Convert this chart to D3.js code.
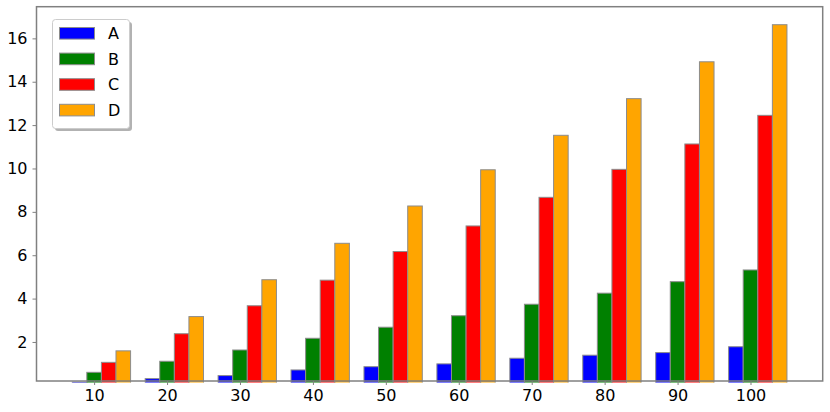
<!DOCTYPE html>
<html>
<head>
<meta charset="utf-8">
<script src="https://cdn.jsdelivr.net/npm/d3@7"></script>
<style>
html,body{margin:0;padding:0;background:#fff;}
svg{display:block;font-family:"DejaVu Sans",sans-serif;}
</style>
</head>
<body>
<svg id="chart" width="830" height="412"></svg>
<script>
const categories = [10, 20, 30, 40, 50, 60, 70, 80, 90, 100];
const seriesNames = ["A", "B", "C", "D"];
const seriesColors = ["#0000ff", "#008000", "#ff0000", "#ffa500"];
const valuesA = [0.15, 0.31, 0.45, 0.71, 0.86, 0.99, 1.25, 1.39, 1.51, 1.78];
const valuesB = [0.60, 1.11, 1.63, 2.17, 2.68, 3.21, 3.74, 4.25, 4.78, 5.32];
const valuesC = [1.06, 2.38, 3.67, 4.85, 6.17, 7.35, 8.67, 9.96, 11.13, 12.45];
const valuesD = [1.59, 3.17, 4.87, 6.55, 8.27, 9.94, 11.53, 13.22, 14.92, 16.63];
const yTicks = [2, 4, 6, 8, 10, 12, 14, 16];
const barWidth = 2;           // in data units
const barOffsets = [-2, 0, 2, 4];
const series = [valuesA, valuesB, valuesC, valuesD];

const svg = d3.select("#chart");
const L = 36.5, R = 822.7, T = 6.7, B = 381;
const x = d3.scaleLinear().domain([2.1, 109.9]).range([L, R]);
const y = d3.scaleLinear().domain([0.2, 17.46]).range([B, T]);

svg.append("defs").append("clipPath").attr("id", "clip")
  .append("rect").attr("x", L).attr("y", T).attr("width", R - L).attr("height", B - T + 1.6);

const plot = svg.append("g").attr("clip-path", "url(#clip)");
series.forEach((vals, si) => {
  plot.selectAll(null).data(vals).enter().append("rect")
    .attr("x", (d, i) => x(categories[i] + barOffsets[si] - barWidth / 2))
    .attr("width", (d, i) => x(categories[i] + barOffsets[si] + barWidth / 2) - x(categories[i] + barOffsets[si] - barWidth / 2))
    .attr("y", d => y(d))
    .attr("height", d => y(0) - y(d))
    .attr("fill", seriesColors[si])
    .attr("stroke", "#8c8c8c")
    .attr("stroke-width", 1);
});

// axes
const xAxis = d3.axisBottom(x).tickValues(categories).tickSize(4).tickPadding(5);
const gx = svg.append("g").attr("transform", `translate(0,${B})`).call(xAxis);
const yAxis = d3.axisLeft(y).tickValues(yTicks).tickSize(4).tickPadding(5);
const gy = svg.append("g").attr("transform", `translate(${L},0)`).call(yAxis);
[gx, gy].forEach(g => {
  g.select(".domain").remove();
  g.selectAll(".tick line").attr("stroke", "#808080").attr("stroke-width", 1);
  g.selectAll(".tick text").attr("fill", "#000").style("font-size", "16px")
    .style("font-family", "'DejaVu Sans', sans-serif");
});

// spines
svg.append("rect").attr("x", L).attr("y", T).attr("width", R - L).attr("height", B - T)
  .attr("fill", "none").attr("stroke", "#808080").attr("stroke-width", 1.5);

// legend
const lg = svg.append("g");
lg.append("rect").attr("x", 55).attr("y", 22).attr("width", 77).attr("height", 109)
  .attr("rx", 3).attr("fill", "#000").attr("opacity", 0.3);
lg.append("rect").attr("x", 52.5).attr("y", 19.5).attr("width", 77).attr("height", 109)
  .attr("rx", 3).attr("fill", "#fff").attr("stroke", "#cccccc").attr("stroke-width", 1);
seriesNames.forEach((name, i) => {
  const cy = 33.3 + i * 25.6;
  lg.append("rect").attr("x", 59.5).attr("y", cy - 5.8).attr("width", 35).attr("height", 11.6)
    .attr("fill", seriesColors[i]).attr("stroke", "#8c8c8c").attr("stroke-width", 1);
  lg.append("text").attr("x", 108).attr("y", cy).attr("dy", "0.36em")
    .style("font-size", "16px").attr("fill", "#000").text(name);
});
</script>
</body>
</html>
